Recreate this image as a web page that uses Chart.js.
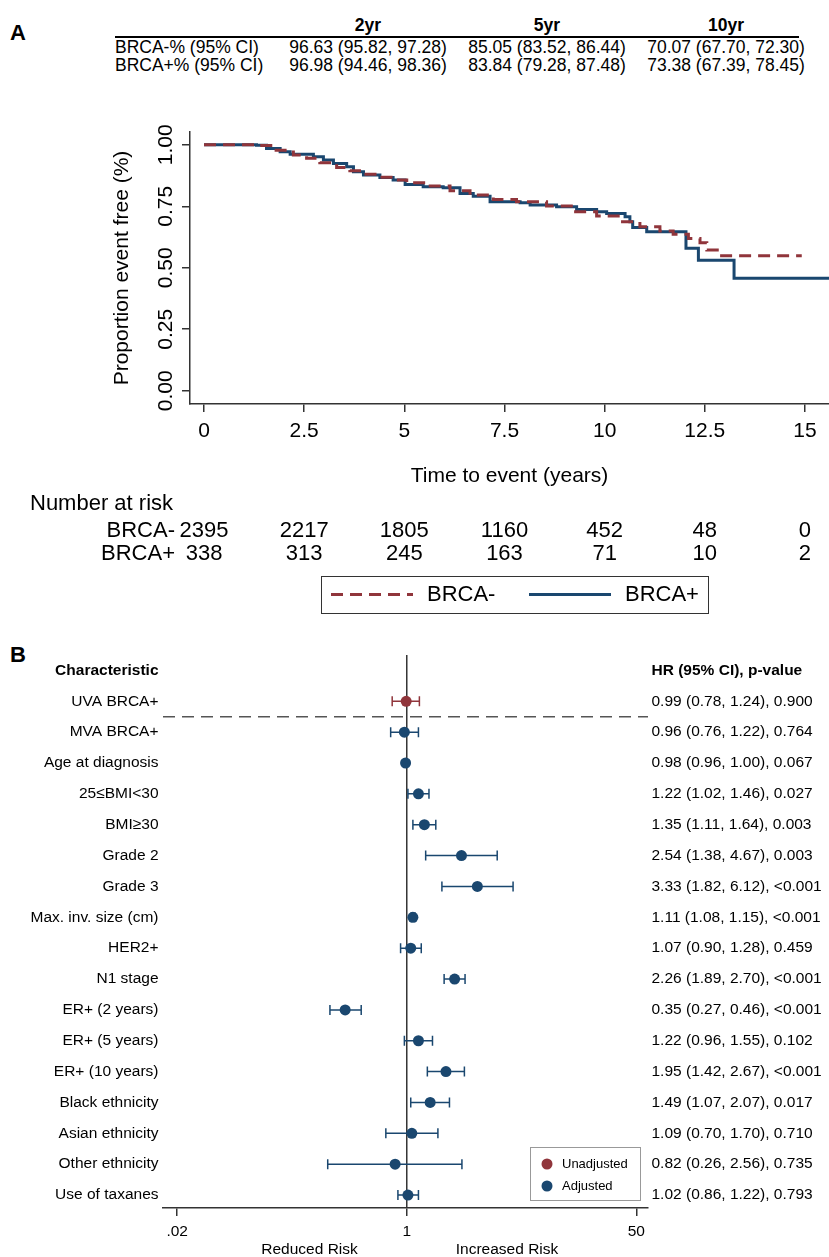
<!DOCTYPE html>
<html>
<head>
<meta charset="utf-8">
<script src="https://cdn.jsdelivr.net/npm/chart.js@4.4.1/dist/chart.umd.min.js"></script>
<style>
  body { margin: 0; background: #fff; }
  #page { position: relative; width: 829px; height: 1257px; overflow: hidden;
          font-family: "Liberation Sans", Arial, sans-serif; color: #000; }
  .c { position: absolute; white-space: nowrap; line-height: 1; transform: translate(-50%, -50%); }
  .l { position: absolute; white-space: nowrap; line-height: 1; transform: translateY(-50%); }
  .rule { position: absolute; left: 115px; width: 684px; top: 36px; height: 2px; background: #000; }
  canvas { position: absolute; left: 0; }
</style>
</head>
<body>
<div id="page">
  <div class="l" style="left:10px;top:33px;font-size:22px;font-weight:bold">A</div>
  <div id="tbl"></div>
  <canvas id="km" width="829" height="520" style="top:100px"></canvas>
  <div class="l" style="left:10px;top:655px;font-size:22px;font-weight:bold">B</div>
  <canvas id="forest" width="829" height="627" style="top:630px"></canvas>
</div>
<script>
const FAMILY = '"Liberation Sans", Arial, sans-serif';
const NAVY = 'rgb(26,71,111)';
const MAROON = 'rgb(144,53,59)';

// Panel A - survival table
const periods = ['2yr', '5yr', '10yr'];
const tableRows = ['BRCA-% (95% CI)', 'BRCA+% (95% CI)'];
const survNeg = ['96.63 (95.82, 97.28)', '85.05 (83.52, 86.44)', '70.07 (67.70, 72.30)'];
const survPos = ['96.98 (94.46, 98.36)', '83.84 (79.28, 87.48)', '73.38 (67.39, 78.45)'];

// Panel A - Kaplan-Meier curves (time in years, proportion event free)
const brcaNegT = [0, 1.31, 1.73, 2.23, 2.56, 2.89, 3.31, 3.64, 3.98, 4.39, 4.72, 5.06, 5.56, 6.14, 6.64, 7.22, 7.80, 8.55, 9.22, 9.80, 10.38, 10.88, 11.38, 11.71, 12.09, 12.38, 12.55, 12.88, 14.92];
const brcaNegS = [1.0, 0.997, 0.978, 0.958, 0.945, 0.927, 0.908, 0.894, 0.880, 0.868, 0.857, 0.846, 0.832, 0.813, 0.796, 0.778, 0.768, 0.751, 0.728, 0.710, 0.687, 0.667, 0.649, 0.636, 0.619, 0.602, 0.572, 0.549, 0.549];
const brcaPosT = [0, 1.31, 1.56, 1.90, 2.15, 2.48, 2.73, 2.98, 3.23, 3.56, 3.73, 3.98, 4.39, 4.72, 5.02, 5.47, 5.97, 6.39, 6.72, 7.14, 7.89, 8.14, 8.80, 9.30, 9.80, 10.05, 10.51, 10.63, 10.70, 11.05, 12.03, 12.34, 13.23, 15.6];
const brcaPosS = [1.0, 0.998, 0.985, 0.972, 0.962, 0.962, 0.951, 0.938, 0.924, 0.911, 0.890, 0.877, 0.867, 0.857, 0.839, 0.829, 0.825, 0.802, 0.791, 0.768, 0.764, 0.755, 0.748, 0.737, 0.728, 0.721, 0.707, 0.687, 0.664, 0.646, 0.579, 0.531, 0.457, 0.457];

const timeTicks = [0, 2.5, 5, 7.5, 10, 12.5, 15];
const survTicks = [0, 0.25, 0.5, 0.75, 1];

// Number at risk
const riskGroups = ['BRCA-', 'BRCA+'];
const riskNeg = [2395, 2217, 1805, 1160, 452, 48, 0];
const riskPos = [338, 313, 245, 163, 71, 10, 2];

// Panel B - forest plot
const rowLabels = ['UVA BRCA+', 'MVA BRCA+', 'Age at diagnosis', '25≤BMI<30', 'BMI≥30', 'Grade 2', 'Grade 3',
  'Max. inv. size (cm)', 'HER2+', 'N1 stage', 'ER+ (2 years)', 'ER+ (5 years)', 'ER+ (10 years)',
  'Black ethnicity', 'Asian ethnicity', 'Other ethnicity', 'Use of taxanes'];
const rowGroup = ['Unadjusted', 'Adjusted', 'Adjusted', 'Adjusted', 'Adjusted', 'Adjusted', 'Adjusted',
  'Adjusted', 'Adjusted', 'Adjusted', 'Adjusted', 'Adjusted', 'Adjusted', 'Adjusted', 'Adjusted', 'Adjusted', 'Adjusted'];
const hr = [0.99, 0.96, 0.98, 1.22, 1.35, 2.54, 3.33, 1.11, 1.07, 2.26, 0.35, 1.22, 1.95, 1.49, 1.09, 0.82, 1.02];
const lo = [0.78, 0.76, 0.96, 1.02, 1.11, 1.38, 1.82, 1.08, 0.90, 1.89, 0.27, 0.96, 1.42, 1.07, 0.70, 0.26, 0.86];
const hi = [1.24, 1.22, 1.00, 1.46, 1.64, 4.67, 6.12, 1.15, 1.28, 2.70, 0.46, 1.55, 2.67, 2.07, 1.70, 2.56, 1.22];
const pvals = ['0.900', '0.764', '0.067', '0.027', '0.003', '0.003', '<0.001', '<0.001', '0.459', '<0.001',
  '<0.001', '0.102', '<0.001', '0.017', '0.710', '0.735', '0.793'];
const hrTicks = [0.02, 1, 50];
const hrTickLabels = ['.02', '1', '50'];

const hrText = hr.map((v, i) => `${v.toFixed(2)} (${lo[i].toFixed(2)}, ${hi[i].toFixed(2)}), ${pvals[i]}`);

// ---- table above panel A ----
const colX = [368, 547, 726];
let html = '<div class="rule"></div>';
periods.forEach((p, i) => {
  html += `<div class="c" style="left:${colX[i]}px;top:26px;font-size:17.5px;font-weight:bold">${p}</div>`;
});
[survNeg, survPos].forEach((vals, r) => {
  const y = r === 0 ? 48 : 66;
  html += `<div class="l" style="left:115px;top:${y}px;font-size:17.5px">${tableRows[r]}</div>`;
  vals.forEach((v, i) => {
    html += `<div class="c" style="left:${colX[i]}px;top:${y}px;font-size:17.5px">${v}</div>`;
  });
});
document.getElementById('tbl').innerHTML = html;

// ---- panel A ----
const kmExtras = {
  id: 'kmExtras',
  afterDraw(chart) {
    const { ctx, scales: { x } } = chart;
    ctx.save();
    ctx.fillStyle = '#000';
    ctx.font = `22px ${FAMILY}`;
    ctx.textBaseline = 'middle';
    ctx.textAlign = 'left';
    ctx.fillText('Number at risk', 30, 404);
    const rowY = [431, 454];
    [riskNeg, riskPos].forEach((counts, r) => {
      ctx.textAlign = 'right';
      ctx.fillText(riskGroups[r], 175, rowY[r]);
      ctx.textAlign = 'center';
      counts.forEach((n, i) => ctx.fillText(String(n), x.getPixelForValue(timeTicks[i]), rowY[r]));
    });

    // legend
    ctx.strokeStyle = '#333';
    ctx.lineWidth = 1;
    ctx.strokeRect(321.5, 476.5, 387, 37);
    const ly = 494.5;
    chart.data.datasets.forEach((ds, i) => {
      const x0 = i === 0 ? 331 : 529;
      ctx.strokeStyle = ds.borderColor;
      ctx.lineWidth = ds.borderWidth;
      ctx.setLineDash(ds.borderDash || []);
      ctx.beginPath();
      ctx.moveTo(x0, ly);
      ctx.lineTo(x0 + 82, ly);
      ctx.stroke();
      ctx.setLineDash([]);
      ctx.textAlign = 'left';
      ctx.fillText(ds.label, x0 + 96, ly);
    });
    ctx.restore();
  }
};

new Chart(document.getElementById('km'), {
  type: 'line',
  data: {
    datasets: [
      { label: 'BRCA-', data: brcaNegT.map((t, i) => ({ x: t, y: brcaNegS[i] })),
        borderColor: MAROON, borderWidth: 3, borderDash: [12, 7], stepped: true, pointRadius: 0, fill: false },
      { label: 'BRCA+', data: brcaPosT.map((t, i) => ({ x: t, y: brcaPosS[i] })),
        borderColor: NAVY, borderWidth: 3, stepped: true, pointRadius: 0, fill: false }
    ]
  },
  options: {
    responsive: false,
    animation: false,
    layout: { padding: { top: 32, left: 0, right: 0, bottom: 0 } },
    plugins: { legend: { display: false }, tooltip: { enabled: false } },
    scales: {
      x: {
        type: 'linear', min: -0.35, max: 15.6,
        afterBuildTicks: s => { s.ticks = timeTicks.map(v => ({ value: v })); },
        afterFit: s => { s.height = 216; },
        grid: { drawOnChartArea: false, tickLength: 8, color: '#333', lineWidth: 1.5 },
        border: { color: '#333', width: 1.5 },
        ticks: { padding: 7, color: '#000', font: { family: FAMILY, size: 21 }, autoSkip: false,
                 maxRotation: 0, callback: v => String(v) },
        title: { display: true, text: 'Time to event (years)', color: '#000',
                 font: { family: FAMILY, size: 21 }, padding: { top: 0, bottom: 131 } }
      },
      y: {
        min: -0.054, max: 1.052,
        afterBuildTicks: s => { s.ticks = survTicks.map(v => ({ value: v })); },
        afterFit: s => { s.width = 190; },
        grid: { drawOnChartArea: false, tickLength: 8, color: '#333', lineWidth: 1.5 },
        border: { color: '#333', width: 1.5 },
        ticks: { minRotation: 90, maxRotation: 90, crossAlign: 'center', padding: -5, color: '#000',
                 font: { family: FAMILY, size: 21 }, autoSkip: false, callback: v => v.toFixed(2) },
        title: { display: true, text: 'Proportion event free (%)', color: '#000',
                 font: { family: FAMILY, size: 21 }, padding: { top: 110, bottom: 0 } }
      }
    }
  },
  plugins: [kmExtras]
});

// ---- panel B ----
const forestExtras = {
  id: 'forestExtras',
  beforeDatasetsDraw(chart) {
    const { ctx, chartArea: a, scales: { x, y } } = chart;
    ctx.save();
    // reference line at HR = 1
    const x1 = x.getPixelForValue(1);
    ctx.strokeStyle = '#333';
    ctx.lineWidth = 1.5;
    ctx.beginPath();
    ctx.moveTo(x1, a.top);
    ctx.lineTo(x1, a.bottom);
    ctx.stroke();
    // separator between unadjusted and adjusted
    const ys = y.getPixelForValue(1.5);
    ctx.strokeStyle = '#555';
    ctx.setLineDash([12, 7]);
    ctx.beginPath();
    ctx.moveTo(a.left, ys);
    ctx.lineTo(a.right, ys);
    ctx.stroke();
    ctx.setLineDash([]);
    // confidence intervals
    hr.forEach((v, i) => {
      const py = y.getPixelForValue(i + 1);
      const pl = x.getPixelForValue(lo[i]);
      const ph = x.getPixelForValue(hi[i]);
      ctx.strokeStyle = rowGroup[i] === 'Unadjusted' ? MAROON : NAVY;
      ctx.lineWidth = 1.5;
      ctx.beginPath();
      ctx.moveTo(pl, py); ctx.lineTo(ph, py);
      ctx.moveTo(pl, py - 5); ctx.lineTo(pl, py + 5);
      ctx.moveTo(ph, py - 5); ctx.lineTo(ph, py + 5);
      ctx.stroke();
    });
    ctx.restore();
  },
  afterDraw(chart) {
    const { ctx, scales: { x } } = chart;
    ctx.save();
    ctx.fillStyle = '#000';
    ctx.textBaseline = 'middle';
    ctx.font = `15.5px ${FAMILY}`;
    const x1 = x.getPixelForValue(1);
    ctx.textAlign = 'right';
    ctx.fillText('Reduced Risk', x1 - 49, 620);
    ctx.textAlign = 'left';
    ctx.fillText('Increased Risk', x1 + 49, 620);

    // legend
    ctx.strokeStyle = '#999';
    ctx.lineWidth = 1;
    ctx.strokeRect(530.5, 517.5, 110, 53);
    ctx.font = `13px ${FAMILY}`;
    chart.data.datasets.forEach((ds, i) => {
      const ly = 534 + i * 22;
      ctx.fillStyle = ds.backgroundColor;
      ctx.beginPath();
      ctx.arc(547, ly, 5.5, 0, Math.PI * 2);
      ctx.fill();
      ctx.fillStyle = '#000';
      ctx.fillText(ds.label, 562, ly);
    });
    ctx.restore();
  }
};

const rowIdx = [0].concat(rowLabels.map((_, i) => i + 1));
const pointsFor = g => hr.map((v, i) => ({ x: v, y: i + 1, g: rowGroup[i] })).filter(p => p.g === g);

const yCommon = {
  type: 'linear', reverse: true, min: -0.5, max: 17.42,
  afterBuildTicks: s => { s.ticks = rowIdx.map(v => ({ value: v })); },
  grid: { display: false }, border: { display: false }
};
const tickFont = c => ({ family: FAMILY, size: 15.5, weight: c.index === 0 ? 'bold' : 'normal' });

new Chart(document.getElementById('forest'), {
  type: 'scatter',
  data: {
    datasets: [
      { label: 'Unadjusted', data: pointsFor('Unadjusted'), backgroundColor: MAROON, borderColor: MAROON,
        pointRadius: 5.5, pointBorderWidth: 0 },
      { label: 'Adjusted', data: pointsFor('Adjusted'), backgroundColor: NAVY, borderColor: NAVY,
        pointRadius: 5.5, pointBorderWidth: 0 }
    ]
  },
  options: {
    responsive: false,
    animation: false,
    layout: { padding: { top: 25, left: 0, right: 0, bottom: 0 } },
    plugins: { legend: { display: false }, tooltip: { enabled: false } },
    scales: {
      x: {
        type: 'logarithmic', min: 0.0157, max: 61,
        afterBuildTicks: s => { s.ticks = hrTicks.map(v => ({ value: v })); },
        afterFit: s => { s.height = 49; },
        grid: { drawOnChartArea: false, tickLength: 8, color: '#333', lineWidth: 1.5 },
        border: { color: '#333', width: 1.5 },
        ticks: { padding: 6.5, color: '#000', font: { family: FAMILY, size: 15.5 }, autoSkip: false,
                 maxRotation: 0, callback: (v, i) => hrTickLabels[i] }
      },
      y: {
        ...yCommon,
        afterFit: s => { s.width = 163; },
        ticks: { padding: -3.5, color: '#000', font: tickFont, autoSkip: false,
                 callback: v => v === 0 ? 'Characteristic' : rowLabels[v - 1] }
      },
      yR: {
        ...yCommon,
        position: 'right',
        afterFit: s => { s.width = 181; },
        ticks: { padding: -4.5, color: '#000', font: tickFont, autoSkip: false,
                 callback: v => v === 0 ? 'HR (95% CI), p-value' : hrText[v - 1] }
      }
    }
  },
  plugins: [forestExtras]
});
</script>
</body>
</html>
